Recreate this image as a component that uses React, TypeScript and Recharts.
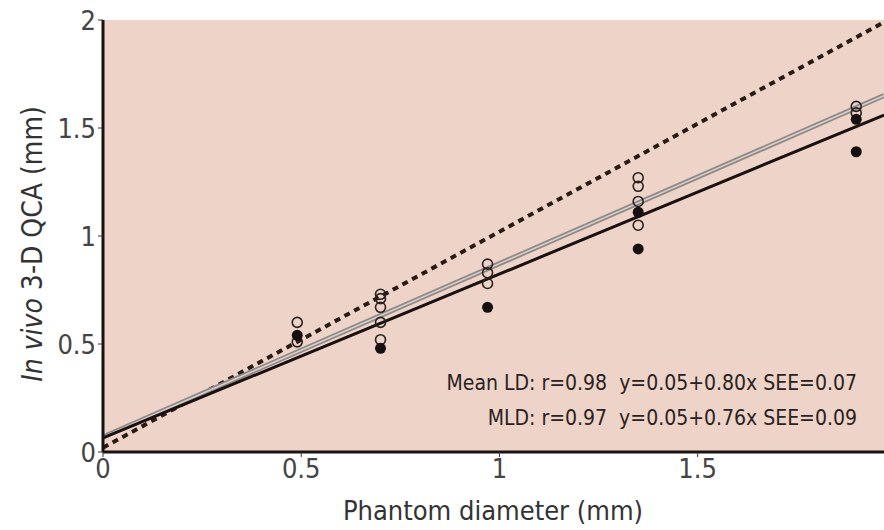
import { ComposedChart, XAxis, YAxis, CartesianGrid, Line, Scatter, Label } from 'recharts';

const meanLdPoints = [
  { x: 0.49, y: 0.6 },
  { x: 0.49, y: 0.51 },
  { x: 0.7, y: 0.73 },
  { x: 0.7, y: 0.71 },
  { x: 0.7, y: 0.67 },
  { x: 0.7, y: 0.6 },
  { x: 0.7, y: 0.52 },
  { x: 0.97, y: 0.87 },
  { x: 0.97, y: 0.83 },
  { x: 0.97, y: 0.78 },
  { x: 1.35, y: 1.27 },
  { x: 1.35, y: 1.23 },
  { x: 1.35, y: 1.16 },
  { x: 1.35, y: 1.05 },
  { x: 1.9, y: 1.6 },
  { x: 1.9, y: 1.57 },
];

const mldPoints = [
  { x: 0.49, y: 0.54 },
  { x: 0.7, y: 0.48 },
  { x: 0.97, y: 0.67 },
  { x: 1.35, y: 1.11 },
  { x: 1.35, y: 0.94 },
  { x: 1.9, y: 1.54 },
  { x: 1.9, y: 1.39 },
];

// line end points
const identityLine = [
  { x: 0, y: 0.02 },
  { x: 1.97, y: 1.99 },
];
const meanLdFit = [
  { x: 0, y: 0.07 },
  { x: 1.97, y: 1.65 },
];
const mldFit = [
  { x: 0, y: 0.065 },
  { x: 1.97, y: 1.56 },
];

const xTicks = [0, 0.5, 1, 1.5];
const yTicks = [0, 0.5, 1, 1.5, 2];

const annotations = [
  'Mean LD: r=0.98  y=0.05+0.80x SEE=0.07',
  'MLD: r=0.97  y=0.05+0.76x SEE=0.09',
];

const FONT = "'DejaVu Sans Condensed', 'Liberation Sans Narrow', 'Roboto Condensed', 'Liberation Sans', sans-serif";
const BG = '#edd3c8';

const OpenDot = (props: any) => (
  <circle cx={props.cx} cy={props.cy} r={5} fill='none' stroke='#2a2220' strokeWidth={1.6} />
);
const FilledDot = (props: any) => <circle cx={props.cx} cy={props.cy} r={5.5} fill='#161010' />;

export default function App() {
  return (
    <div style={{ position: 'absolute', left: 0, top: 0, width: 884, height: 530, background: '#fff', fontFamily: FONT }}>
      <ComposedChart width={884} height={530} margin={{ top: 20, right: 0, left: 0, bottom: 0 }}>
        <CartesianGrid horizontal={false} vertical={false} fill={BG} />
        <XAxis
          type='number'
          dataKey='x'
          domain={[0, 1.97]}
          ticks={xTicks}
          allowDataOverflow
          height={78}
          axisLine={{ stroke: '#1a1212', strokeWidth: 3 }}
          tickLine={{ stroke: '#333' }}
          tickSize={5}
          tick={{ fill: '#444', fontSize: 27, fontFamily: FONT }}
          tickFormatter={(v) => String(v)}
        >
          <Label
            content={() => (
              <text x={493} y={510} textAnchor='middle' dominantBaseline='central' fill='#333' fontSize={27} fontFamily={FONT}>
                Phantom diameter (mm)
              </text>
            )}
          />
        </XAxis>
        <YAxis
          type='number'
          dataKey='y'
          domain={[0, 2]}
          ticks={yTicks}
          allowDataOverflow
          width={103}
          axisLine={{ stroke: '#1a1212', strokeWidth: 3 }}
          tickLine={{ stroke: '#333' }}
          tickSize={5}
          tick={{ fill: '#444', fontSize: 27, fontFamily: FONT }}
          tickFormatter={(v) => String(v)}
        >
          <Label
            content={() => (
              <text x={32} y={244} transform='rotate(-90, 32, 244)' textAnchor='middle' dominantBaseline='central' fill='#333' fontSize={28} fontFamily={FONT}>
                <tspan fontStyle='italic'>In vivo</tspan>
                <tspan> 3-D QCA (mm)</tspan>
              </text>
            )}
          />
        </YAxis>
        <Line data={identityLine} dataKey='y' stroke='#2a1a14' strokeWidth={4} strokeDasharray='6 5' dot={false} isAnimationActive={false} />
        <Line data={meanLdFit} dataKey='y' stroke='#8f8886' strokeWidth={5} dot={false} isAnimationActive={false} />
        <Line data={meanLdFit} dataKey='y' stroke='#d9d3d0' strokeWidth={1.5} dot={false} isAnimationActive={false} />
        <Line data={mldFit} dataKey='y' stroke='#1a1010' strokeWidth={3} dot={false} isAnimationActive={false} />
        <Scatter data={meanLdPoints} shape={OpenDot} isAnimationActive={false} />
        <Scatter data={mldPoints} shape={FilledDot} isAnimationActive={false} />
      </ComposedChart>
      <div style={{ position: 'absolute', right: 27, top: 366, textAlign: 'right', fontSize: 21, color: '#2a2222', lineHeight: '35px', whiteSpace: 'pre' }}>
        {annotations.map((a) => (
          <div key={a}>{a}</div>
        ))}
      </div>
    </div>
  );
}
